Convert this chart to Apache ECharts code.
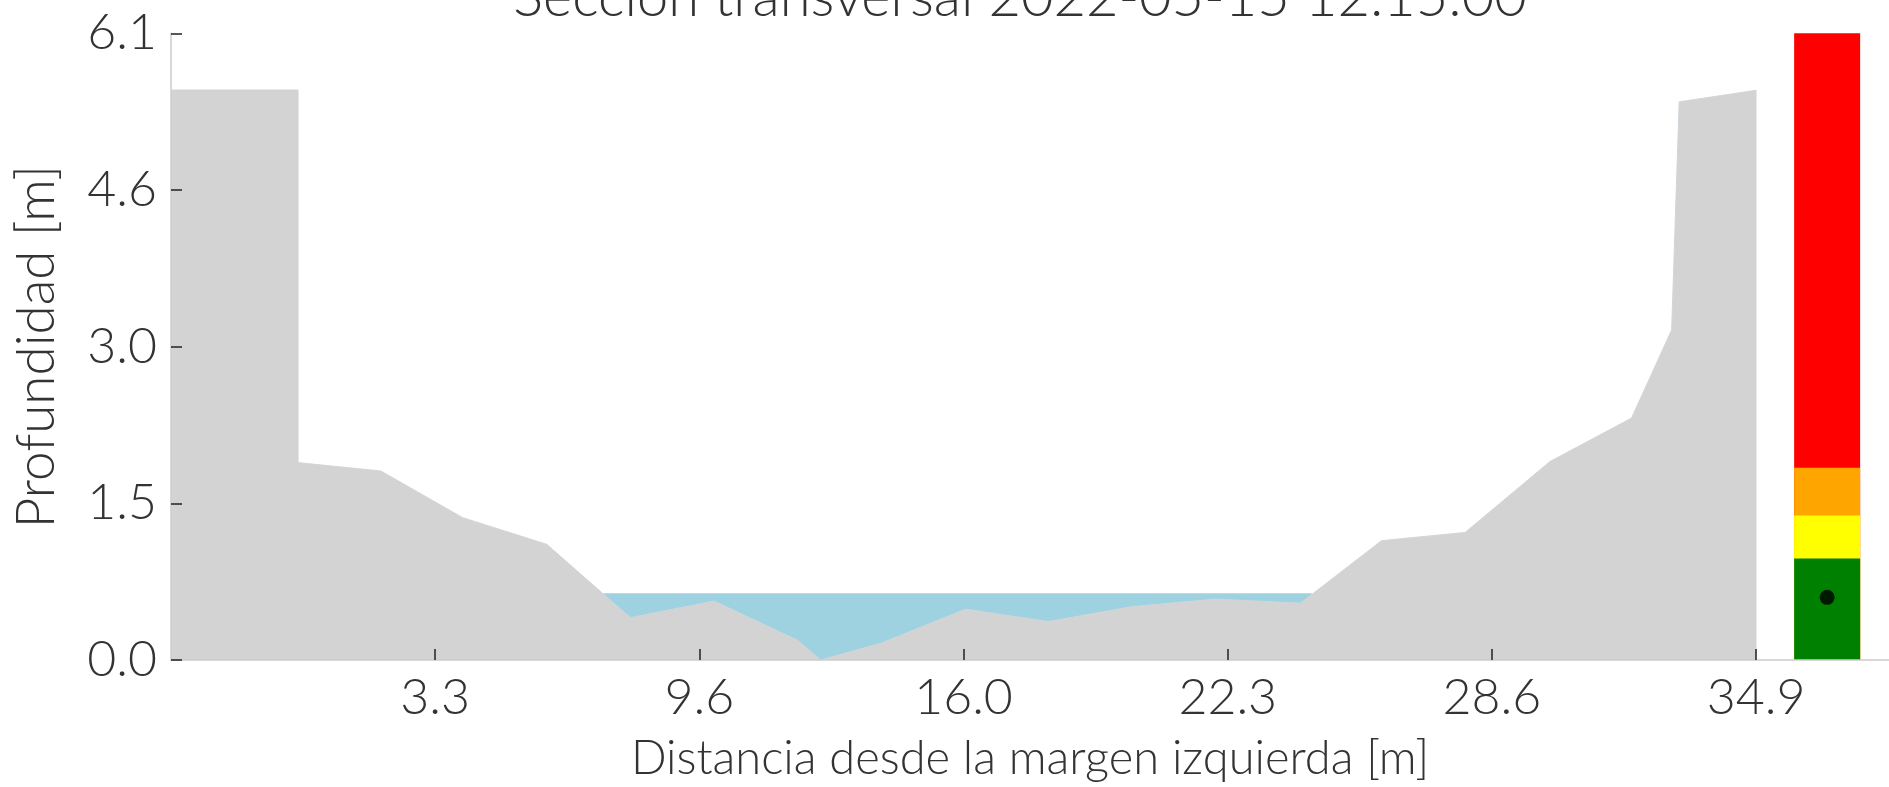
<!DOCTYPE html>
<html>
<head>
<meta charset="utf-8">
<script src="https://cdn.jsdelivr.net/npm/echarts@6/dist/echarts.min.js"></script>
<style>
  html, body { margin: 0; padding: 0; background: #ffffff; }
  #chart { width: 1889px; height: 787px; }
</style>
</head>
<body>
<div id="chart"></div>
<script>
// ---- data ----
const titleText = 'Sección transversal 2022-05-15 12:15:00';
const xAxisName = 'Distancia desde la margen izquierda [m]';
const yAxisName = 'Profundidad [m]';

// terrain profile (distance [m], depth [m])
const terrainX = [-3.0, 0.04, 0.04, 2.02, 3.98, 5.99, 7.99, 9.99, 12.0, 12.54, 13.98, 16.01, 17.99, 20.01, 21.99, 24.02, 25.96, 27.96, 29.99, 31.94, 32.9, 33.08, 34.93];
const terrainY = [5.53, 5.53, 1.915, 1.834, 1.381, 1.122, 0.411, 0.572, 0.19, 0.0, 0.162, 0.493, 0.373, 0.519, 0.591, 0.551, 1.158, 1.238, 1.926, 2.347, 3.203, 5.415, 5.528];

// water surface
const waterX = [7.35, 24.29];
const waterLevel = 0.644;

// alarm gauge
const gaugeX = 36.62;
const gaugeLevels = [6.08, 1.865, 1.403, 0.984];         // red, orange, yellow, green tops
const gaugeColors = ['#ff0000', '#ffa500', '#ffff00', '#008000'];
const currentLevel = 0.608;

// ticks
const xTicks = [3.32, 9.64, 15.96, 22.28, 28.6, 34.92];
const yTicks = [0, 1.52, 3.04, 4.56, 6.08];

const FONT = 'Lato';
const TXT = '#333333';

const chart = echarts.init(document.getElementById('chart'), null, { renderer: 'canvas' });

const gaugeSeries = gaugeLevels.map((lv, i) => ({
  type: 'bar',
  data: [[gaugeX, lv]],
  barWidth: 66,
  barGap: '-100%',
  itemStyle: { color: gaugeColors[i] },
  z: 3 + i,
  silent: true
}));

const option = {
  animation: false,
  backgroundColor: '#ffffff',
  title: {
    text: titleText,
    left: 1020,
    textAlign: 'center',
    top: -30,
    padding: 0,
    textStyle: { fontFamily: FONT, fontWeight: 300, fontSize: 56, color: TXT }
  },
  grid: { left: 171, right: 0, top: 33.3, bottom: 126.5, containLabel: false },
  xAxis: {
    type: 'value',
    min: -3.0,
    max: 38.1,
    z: 20,
    name: xAxisName,
    nameLocation: 'middle',
    nameGap: 75,
    nameTextStyle: { fontFamily: FONT, fontWeight: 300, fontSize: 47, color: TXT },
    axisLine: { show: true, onZero: false, lineStyle: { color: '#cccccc', width: 1.5 } },
    axisTick: { show: true, inside: true, length: 11, customValues: xTicks, lineStyle: { color: '#222222', width: 1.5 } },
    axisLabel: {
      customValues: xTicks, margin: 13,
      formatter: v => v.toFixed(1),
      fontFamily: FONT, fontWeight: 300, fontSize: 50, color: TXT
    },
    splitLine: { show: false }
  },
  yAxis: {
    type: 'value',
    min: 0,
    max: 6.08,
    z: 20,
    name: yAxisName,
    nameLocation: 'middle',
    nameGap: 108,
    nameTextStyle: { fontFamily: FONT, fontWeight: 300, fontSize: 53, color: TXT },
    axisLine: { show: true, onZero: false, lineStyle: { color: '#cccccc', width: 1.5 } },
    axisTick: { show: true, inside: true, length: 11, customValues: yTicks, lineStyle: { color: '#222222', width: 1.5 } },
    axisLabel: {
      customValues: yTicks, margin: 14,
      formatter: v => v.toFixed(1),
      fontFamily: FONT, fontWeight: 300, fontSize: 50, color: TXT
    },
    splitLine: { show: false }
  },
  series: [
    {
      type: 'line',
      data: waterX.map(x => [x, waterLevel]),
      symbol: 'none',
      lineStyle: { color: '#b3dce8', width: 1 },
      areaStyle: { color: '#9ed2e1', opacity: 1, origin: 'start' },
      z: 1,
      silent: true
    },
    {
      type: 'line',
      data: terrainX.map((x, i) => [x, terrainY[i]]),
      symbol: 'none',
      lineStyle: { color: '#cfd6da', width: 1 },
      areaStyle: { color: '#d3d3d3', opacity: 1, origin: 'start' },
      z: 2,
      silent: true
    },
    ...gaugeSeries,
    {
      type: 'scatter',
      data: [[gaugeX, currentLevel]],
      symbol: 'circle',
      symbolSize: 15,
      itemStyle: { color: '#000000' },
      z: 10,
      silent: true
    }
  ]
};

chart.setOption(option);
</script>
</body>
</html>
